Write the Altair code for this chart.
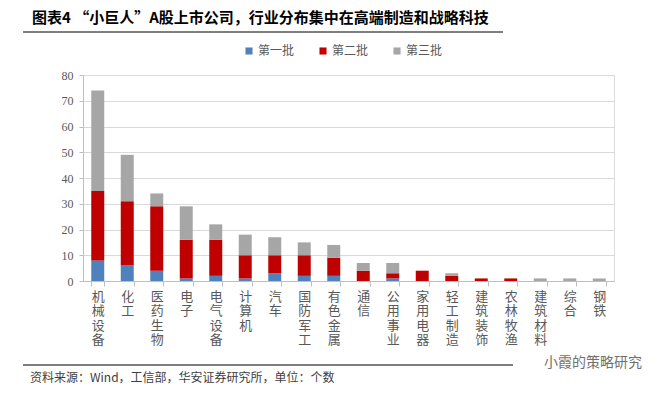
import altair as alt
import pandas as pd

categories = ["机械设备", "化工", "医药生物", "电子", "电气设备", "计算机", "汽车", "国防军工",
              "有色金属", "通信", "公用事业", "家用电器", "轻工制造", "建筑装饰", "农林牧渔",
              "建筑材料", "综合", "钢铁"]
batch1 = [8, 6, 4, 1, 2, 1, 3, 2, 2, 0, 1, 0, 0, 0, 0, 0, 0, 0]
batch2 = [27, 25, 25, 15, 14, 9, 7, 8, 7, 4, 2, 4, 2, 1, 1, 0, 0, 0]
batch3 = [39, 18, 5, 13, 6, 8, 7, 5, 5, 3, 4, 0, 1, 0, 0, 1, 1, 1]
series = ["第一批", "第二批", "第三批"]
colors = ["#4F81BD", "#C00000", "#A6A6A6"]

title_text = "图表4 “小巨人”A股上市公司，行业分布集中在高端制造和战略科技"
source_text = "资料来源：Wind，工信部，华安证券研究所，单位：个数"
watermark_text = "小霞的策略研究"

rows = []
for i, c in enumerate(categories):
    for k, vals in enumerate([batch1, batch2, batch3]):
        rows.append({"industry": c, "batch": series[k], "order": k, "count": vals[i]})
df = pd.DataFrame(rows)

FONT = "Noto Sans CJK SC"

bars = alt.Chart(df).mark_bar().encode(
    x=alt.X("industry:N", sort=categories, title=None,
            scale=alt.Scale(paddingInner=0.56, paddingOuter=0.28),
            axis=alt.Axis(labelAngle=0, labelExpr="split(datum.label, '')",
                          labelBaseline="top", labelAlign="center",
                          labelLineHeight=14.5, labelFontSize=13, labelFont=FONT,
                          labelColor="#595959", labelPadding=4, labelOverlap=False,
                          domainColor="#BFBFBF", tickColor="#BFBFBF", tickSize=5,
                          tickBand="extent", grid=False)),
    y=alt.Y("count:Q", stack="zero", title=None,
            scale=alt.Scale(domain=[0, 80], nice=False),
            axis=alt.Axis(values=[0, 10, 20, 30, 40, 50, 60, 70, 80],
                          labelFont="Liberation Serif", labelFontSize=12,
                          labelColor="#595959", labelPadding=6,
                          gridColor="#D9D9D9", domainColor="#BFBFBF",
                          tickColor="#BFBFBF", tickSize=4)),
    color=alt.Color("batch:N", sort=series,
                    scale=alt.Scale(domain=series, range=colors),
                    legend=alt.Legend(title=None, orient="none", direction="horizontal",
                                      legendX=160, legendY=-30, symbolType="square",
                                      symbolSize=50, symbolStrokeWidth=0,
                                      labelFont=FONT, labelFontSize=12,
                                      labelColor="#595959", columnPadding=22,
                                      symbolOffset=0, labelOffset=3)),
    order=alt.Order("order:Q", sort="ascending"),
)

title = alt.Chart(pd.DataFrame({"t": [title_text]})).mark_text(
    align="left", baseline="middle", font=FONT, fontSize=15, fontWeight="bold", color="#000000"
).encode(text="t:N", x=alt.value(-51), y=alt.value(-57))

title_rule = alt.Chart(pd.DataFrame({"a": [0]})).mark_rule(color="#000000", strokeWidth=1.2).encode(
    x=alt.value(-60), x2=alt.value(420), y=alt.value(-43))

foot_rule = alt.Chart(pd.DataFrame({"a": [0]})).mark_rule(color="#000000", strokeWidth=1.2).encode(
    x=alt.value(-60), x2=alt.value(430), y=alt.value(290))

source = alt.Chart(pd.DataFrame({"t": [source_text]})).mark_text(
    align="left", baseline="middle", font=FONT, fontSize=12, color="#404040"
).encode(text="t:N", x=alt.value(-53), y=alt.value(303))

watermark = alt.Chart(pd.DataFrame({"t": [watermark_text]})).mark_text(
    align="center", baseline="middle", font=FONT, fontSize=14, color="#707070"
).encode(text="t:N", x=alt.value(510), y=alt.value(288))

chart = alt.layer(bars, title, title_rule, foot_rule, source, watermark).properties(
    width=531, height=206,
    autosize=alt.AutoSizeParams(type="none"),
    padding={"left": 75, "top": 67, "right": 47, "bottom": 105},
).configure_view(stroke=None).configure(background="#FFFFFF")

chart.save("out.html", embed_options={"renderer": "svg", "actions": False})
